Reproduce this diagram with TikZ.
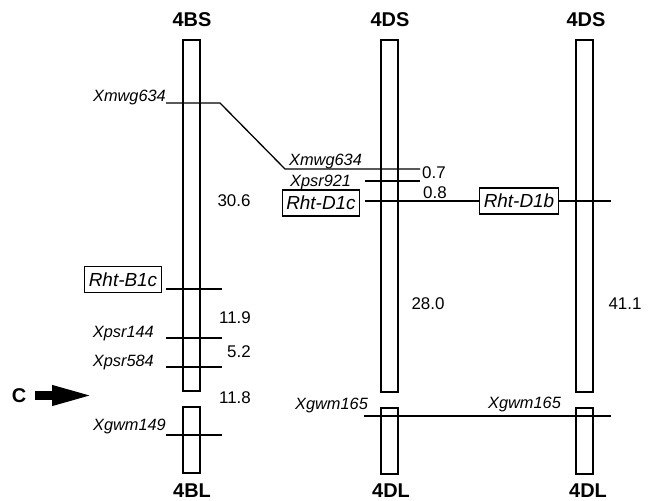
\documentclass[tikz,border=0pt]{standalone}
\usepackage{fontspec}
\setmainfont{Liberation Sans}
\usetikzlibrary{arrows.meta}

\begin{document}
\begin{tikzpicture}[x=1bp,y=-1bp,
bar/.style={draw,line width=2.2bp},
mkline/.style={line width=1.3bp},
locus/.style={font=\fontsize{16.4}{19}\selectfont\itshape,inner sep=0pt},
gene/.style={draw,line width=1.1bp,font=\fontsize{19}{22}\selectfont\itshape,inner xsep=4bp,minimum height=26bp,inner ysep=0pt},
dist/.style={font=\fontsize{17}{20}\selectfont,inner sep=0pt,anchor=base},
arm/.style={font=\fontsize{20}{24}\selectfont\bfseries,inner sep=0pt,anchor=base}]
\useasboundingbox (0,0) rectangle (654,501);

\node[arm] (bS) at (192,27) {4BS};
\node[arm] (dS) at (390,27) {4DS};
\node[arm] (eS) at (586,27) {4DS};
\node[arm] (bL) at (192,497.5) {4BL};
\node[arm] (dL) at (391,497.5) {4DL};
\node[arm] (eL) at (588,497.5) {4DL};

\draw[bar] (183,40) rectangle (200,391);
\draw[bar] (183,407) rectangle (200,473);
\draw[bar] (381,40) rectangle (398,392);
\draw[bar] (381,408) rectangle (398,474);
\draw[bar] (576,40) rectangle (593,392);
\draw[bar] (576,408) rectangle (593,474);

\node[locus,anchor=base east] (mwgB) at (166,102) {Xmwg634};
\node[locus,anchor=base west] (mwgD) at (289,166) {Xmwg634};
\node[locus,anchor=base west] (psr921) at (290,187) {Xpsr921};
\node[gene] (rhtD1c) at (321,203) {Rht-D1c};
\node[gene] (rhtD1b) at (519,201) {Rht-D1b};
\node[gene] (rhtB1c) at (123,279.5) {Rht-B1c};
\node[locus,anchor=base east] (psr144) at (154,337) {Xpsr144};
\node[locus,anchor=base east] (psr584) at (154,366) {Xpsr584};
\node[locus,anchor=base east] (gwm149) at (166,430) {Xgwm149};
\node[locus,anchor=base west] (gwmD) at (295,409) {Xgwm165};
\node[locus,anchor=base west] (gwmE) at (488,408) {Xgwm165};

\node[dist] (d1) at (234,207) {30.6};
\node[dist] (d2) at (235,323) {11.9};
\node[dist] (d3) at (239,357) {5.2};
\node[dist] (d4) at (235,403) {11.8};
\node[dist] (d5) at (434,179) {0.7};
\node[dist] (d6) at (435,199) {0.8};
\node[dist] (d7) at (428,309) {28.0};
\node[dist] (d8) at (625,309) {41.1};

\coordinate (m1a) at (166,103);
\coordinate (m1b) at (220,103);
\coordinate (m1c) at (285,169);
\coordinate (m1d) at (420,169);
\coordinate (m2a) at (365,181);
\coordinate (m2b) at (420,181);
\coordinate (m3a) at (365,201);
\coordinate (m3b) at (611,201);
\coordinate (m4a) at (166,289);
\coordinate (m4b) at (222,289);
\coordinate (m5a) at (166,338);
\coordinate (m5b) at (222,338);
\coordinate (m6a) at (166,367);
\coordinate (m6b) at (222,367);
\coordinate (m7a) at (166,435);
\coordinate (m7b) at (222,435);
\coordinate (m8a) at (364,416);
\coordinate (m8b) at (611,416);

\draw[mkline] (m1a) -- (m1b) -- (m1c) -- (m1d);
\draw[mkline] (m2a) -- (m2b);
\draw[mkline] (m3a) -- (rhtD1b.west);
\draw[mkline] (rhtD1b.east) -- (m3b);
\draw[mkline] (m4a) -- (m4b);
\draw[mkline] (m5a) -- (m5b);
\draw[mkline] (m6a) -- (m6b);
\draw[mkline] (m7a) -- (m7b);
\draw[mkline] (m8a) -- (m8b);

\node[arm,anchor=center] (cen) at (19,396) {C};
\coordinate (tail) at (35,395.5);
\coordinate (tip) at (95,395.5);
\draw[line width=9bp,-{Triangle[length=43bp,width=18bp]}] (tail) -- (tip);
\end{tikzpicture}
\end{document}
